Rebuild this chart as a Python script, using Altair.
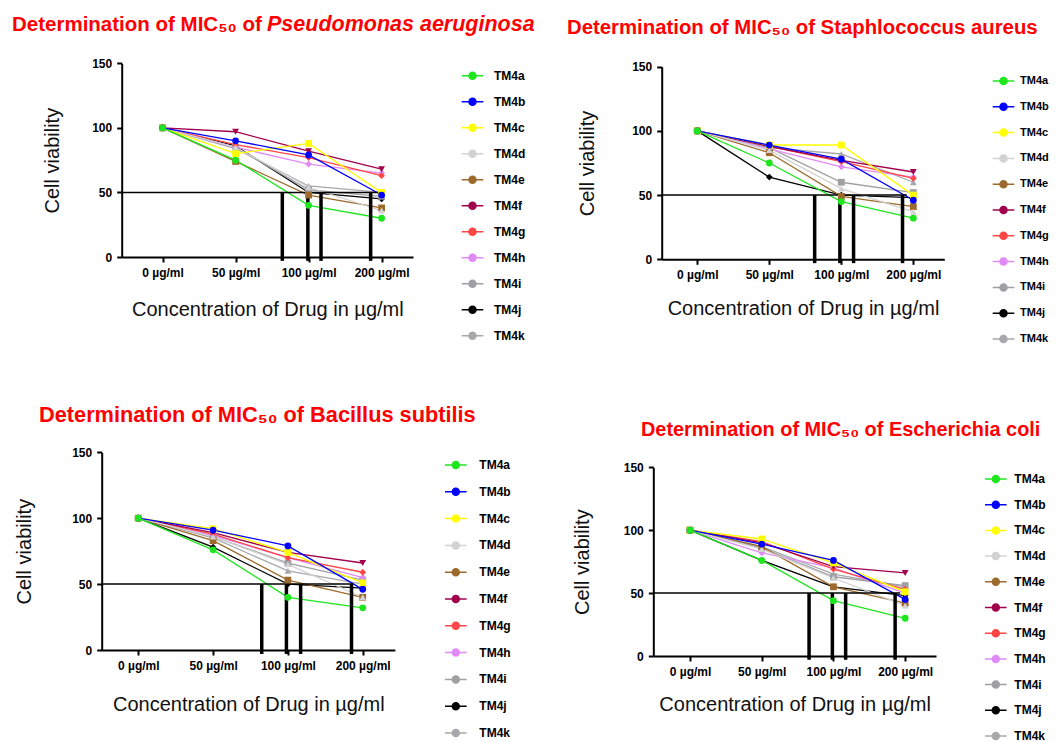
import json
import altair as alt
import pandas as pd

# ---------------- data ----------------
series = ["TM4a", "TM4b", "TM4c", "TM4d", "TM4e", "TM4f", "TM4g", "TM4h", "TM4i", "TM4j", "TM4k"]
colors = ["#1EE61E", "#0000FF", "#FFFF00", "#D2D2D2", "#9C6A2C", "#A0004C",
          "#FF4646", "#E08AF8", "#A0A0A4", "#000000", "#A8A8AC"]
shapes = ["circle", "circle", "square", "triangle-up", "square", "triangle-down",
          "diamond", "diamond", "square", "diamond", "triangle-up"]
conc_labels = ["0 µg/ml", "50 µg/ml", "100 µg/ml", "200 µg/ml"]
conc_index = [0, 1, 2, 3]
y_ticks = [0, 50, 100, 150]
mic_level = 50

# Pseudomonas aeruginosa
pa_values = [
    [100, 75, 40, 30], [100, 90, 79, 48], [100, 80, 88, 50], [100, 85, 54, 36],
    [100, 74, 48, 38], [100, 97, 82, 68], [100, 87, 77, 63], [100, 85, 72, 65],
    [100, 85, 52, 47], [100, 86, 50, 45], [100, 84, 55, 50],
]
pa_mic = [1.64, 1.99, 2.17, 2.85]
pa_hend = 2.98

# Staphylococcus aureus
sa_values = [
    [100, 75, 45, 32], [100, 89, 78, 46], [100, 89, 89, 50], [100, 85, 55, 37],
    [100, 83, 49, 41], [100, 88, 77, 68], [100, 88, 76, 63], [100, 86, 72, 64],
    [100, 87, 60, 52], [100, 64, 50, 48], [100, 87, 82, 60],
]
sa_mic = [1.63, 1.98, 2.17, 2.85]
sa_hend = 2.91

# Bacillus subtilis
bs_values = [
    [100, 76, 40, 32], [100, 91, 79, 46], [100, 92, 74, 51], [100, 86, 65, 40],
    [100, 83, 53, 40], [100, 89, 74, 66], [100, 88, 70, 59], [100, 87, 70, 55],
    [100, 86, 66, 53], [100, 78, 50, 47], [100, 85, 60, 50],
]
bs_mic = [1.65, 1.98, 2.17, 2.85]
bs_hend = 2.87

# Escherichia coli
ec_values = [
    [100, 76, 44, 30], [100, 89, 76, 45], [100, 93, 74, 51], [100, 85, 62, 40],
    [100, 87, 55, 42], [100, 90, 71, 66], [100, 91, 69, 53], [100, 82, 70, 50],
    [100, 86, 63, 56], [100, 76, 55, 48], [100, 87, 65, 55],
]
ec_mic = [1.66, 1.985, 2.17, 2.86]
ec_hend = 2.93

title_prefix = "Determination of MIC₅₀ of "
species = ["Pseudomonas aeruginosa", "Staphlococcus aureus", "Bacillus subtilis", "Escherichia coli"]
y_title = "Cell viability"
x_title = "Concentration of Drug in  µg/ml"

# ---------------- layout ----------------
FONT = "Liberation Sans"
W, H = 1045, 734
SYMBOL = "M-2,0H2M0.65,0A0.65,0.65,0,1,1,-0.65,0A0.65,0.65,0,1,1,0.65,0Z"
label_expr = json.dumps(conc_labels, ensure_ascii=False) + "[datum.value]"


def long_df(values):
    rows = []
    for s, vals in reversed(list(zip(series, values))):
        for xi, v in zip(conc_index, vals):
            rows.append({"series": s, "mk": s, "xi": xi, "v": v})
    return pd.DataFrame(rows)


def panel(values, mic, hend, xdom, xr, yr, leg_pos, ytp, xtp, titles):
    df = long_df(values)
    xs = alt.Scale(domain=xdom, range=xr, nice=False, zero=False)
    ys = alt.Scale(domain=[0, 150], range=yr, nice=False, zero=False)
    common = dict(domainColor="black", domainWidth=2, tickColor="black", tickWidth=2,
                  tickSize=5, grid=False, labelFont=FONT, labelFontSize=12,
                  labelFontWeight="bold", labelColor="black", labelPadding=5,
                  labelFlush=False, labelOverlap=False, titleFont=FONT, titleFontSize=20,
                  titleFontWeight="normal", titleColor="#111111")
    xaxis = alt.Axis(orient="bottom", offset=yr[0] - H, values=conc_index, labelExpr=label_expr,
                     title=x_title, titlePadding=xtp, **common)
    yaxis = alt.Axis(orient="left", offset=-xr[0], values=y_ticks, title=y_title,
                     titlePadding=ytp, **common)
    cscale = alt.Scale(domain=series, range=colors)
    lx, ly, rp, lo, lfs = leg_pos
    leg = alt.Legend(orient="none", legendX=lx, legendY=ly, title=None, direction="vertical",
                     symbolType=SYMBOL, symbolSize=117, symbolStrokeWidth=1.5,
                     labelFont=FONT, labelFontSize=lfs, labelFontWeight="bold",
                     labelColor="black", labelOffset=lo, rowPadding=rp, padding=0)
    base = alt.Chart(df)
    lines = base.mark_line(strokeWidth=1.3).encode(
        x=alt.X("xi:Q", scale=xs, axis=xaxis),
        y=alt.Y("v:Q", scale=ys, axis=yaxis),
        color=alt.Color("series:N", scale=cscale, legend=leg),
    )
    pts = base.mark_point(filled=True, size=46, opacity=1).encode(
        x=alt.X("xi:Q", scale=xs, axis=xaxis),
        y=alt.Y("v:Q", scale=ys, axis=yaxis),
        color=alt.Color("series:N", scale=cscale, legend=leg),
        shape=alt.Shape("mk:N", scale=alt.Scale(range=shapes), legend=None),
    )
    hdf = pd.DataFrame({"x0": [xdom[0]], "x1": [hend], "y": [mic_level]})
    hline = alt.Chart(hdf).mark_rule(color="black", strokeWidth=1.5).encode(
        x=alt.X("x0:Q", scale=xs, axis=xaxis), x2="x1:Q",
        y=alt.Y("y:Q", scale=ys, axis=yaxis))
    vdf = pd.DataFrame({"x": mic, "y": [mic_level] * len(mic), "y2": [-3] * len(mic)})
    vlines = alt.Chart(vdf).mark_rule(color="black", strokeWidth=3.5).encode(
        x=alt.X("x:Q", scale=xs, axis=xaxis),
        y=alt.Y("y:Q", scale=ys, axis=yaxis), y2="y2:Q")
    layers = [lines, hline, vlines, pts]
    for (txt, tx, ty, fs, italic) in titles:
        layers.append(
            alt.Chart(pd.DataFrame({"t": [txt]})).mark_text(
                align="left", baseline="middle", font=FONT, fontSize=fs, fontWeight="bold",
                fontStyle="italic" if italic else "normal", color="#FF0000"
            ).encode(x=alt.value(tx), y=alt.value(ty), text="t:N")
        )
    return alt.layer(*layers)


p1 = panel(pa_values, pa_mic, pa_hend, [-0.56, 3.43], [113.7, 405], [249, 55.3],
           (458, 61.2, 11, 15, 12), 29, 21,
           [(title_prefix, 4, 17, 20.5, False), (species[0], 259, 17, 21.5, True)])
p2 = panel(sa_values, sa_mic, sa_hend, [-0.494, 3.43], [653.7, 936.3], [251.3, 58.7],
           (989, 66.5, 10.8, 10, 11), 34, 18,
           [(title_prefix + species[1], 559, 20, 20.35, False)])
p3 = panel(bs_values, bs_mic, bs_hend, [-0.489, 3.43], [93.7, 386.9], [642, 444.3],
           (441.3, 450.5, 11.8, 17, 12), 37, 23,
           [(title_prefix + species[2], 31, 407, 21.75, False)])
p4 = panel(ec_values, ec_mic, ec_hend, [-0.512, 3.43], [645.3, 928], [648, 459.3],
           (981.3, 464.5, 10.7, 12, 12), 31, 17,
           [(title_prefix + species[3], 633, 422, 19.9, False)])

chart = alt.layer(p1, p2, p3, p4).resolve_scale(
    x="independent", y="independent", color="independent"
).resolve_axis(x="independent", y="independent").resolve_legend(
    color="independent"
).properties(
    width=W, height=H, padding=0, autosize=alt.AutoSizeParams(type="none")
).configure_view(strokeWidth=0)

chart.save("out.html", embed_options={"renderer": "svg", "actions": False})
